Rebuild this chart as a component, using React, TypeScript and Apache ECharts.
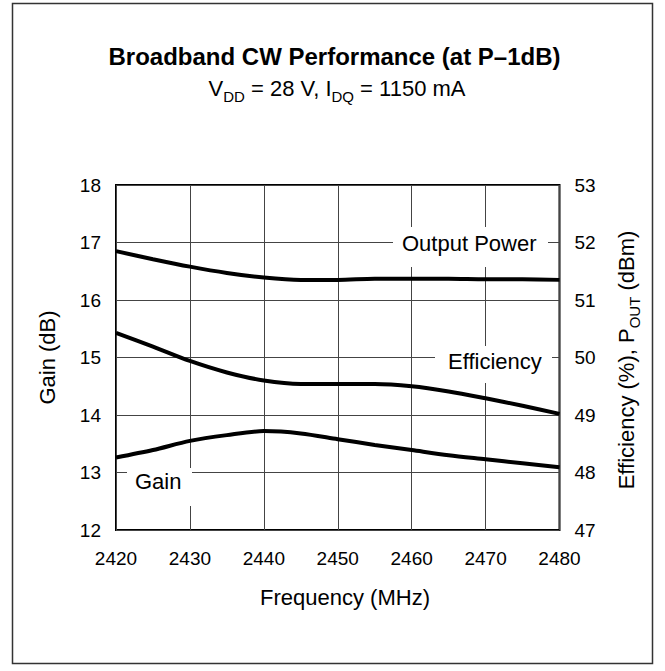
import React, { useEffect, useRef } from "react";
import * as echarts from "echarts";

const frequency = [2420, 2425, 2430, 2435, 2440, 2445, 2450, 2455, 2460, 2465, 2470, 2475, 2480];
const gain = [13.26, 13.39, 13.55, 13.65, 13.72, 13.68, 13.58, 13.48, 13.39, 13.3, 13.23, 13.16, 13.09];
const efficiency = [50.43, 50.19, 49.94, 49.74, 49.6, 49.54, 49.54, 49.54, 49.5, 49.41, 49.29, 49.16, 49.02];
const outputPower = [51.85, 51.71, 51.58, 51.47, 51.39, 51.35, 51.35, 51.37, 51.37, 51.37, 51.36, 51.36, 51.35];

const freqRange = [2420, 2480];
const gainRange = [12, 18];
const rightRange = [47, 53];

const FONT = "'Liberation Sans', Arial, Helvetica, sans-serif";

export default function App() {
  const ref = useRef<HTMLDivElement>(null);
  useEffect(() => {
    if (!ref.current) return;
    const chart = echarts.init(ref.current, null, { renderer: "svg" });
    const pair = (vals: number[]) => frequency.map((f, i) => [f, vals[i]]);
    const lineStyle = { color: "#000", width: 4 };
    const subRich = {
      sub: { fontSize: 15, fontFamily: FONT, color: "#000", lineHeight: 15, padding: [17, 0, 0, 0] },
    };
    chart.setOption({
      animation: false,
      backgroundColor: "#fff",
      grid: {
        left: 116,
        right: 105.5,
        top: 185,
        bottom: 141,
        show: true,
        borderColor: "#000",
        borderWidth: 2,
        backgroundColor: "transparent",
      },
      xAxis: {
        type: "value",
        min: freqRange[0],
        max: freqRange[1],
        interval: 10,
        axisLine: { show: false },
        axisTick: { show: false },
        axisLabel: {
          color: "#000",
          fontSize: 19,
          fontFamily: FONT,
          margin: 19,
          formatter: (v: number) => String(v),
        },
        splitLine: { show: true, lineStyle: { color: "#444", width: 1 } },
      },
      yAxis: [
        {
          type: "value",
          min: gainRange[0],
          max: gainRange[1],
          interval: 1,
          axisLine: { show: false },
          axisTick: { show: false },
          axisLabel: { color: "#000", fontSize: 19, fontFamily: FONT, margin: 15 },
          splitLine: { show: true, lineStyle: { color: "#444", width: 1 } },
        },
        {
          type: "value",
          position: "right",
          min: rightRange[0],
          max: rightRange[1],
          interval: 1,
          axisLine: { show: false },
          axisTick: { show: false },
          axisLabel: { color: "#000", fontSize: 19, fontFamily: FONT, margin: 15 },
          splitLine: { show: false },
        },
      ],
      series: [
        { name: "Gain", type: "line", yAxisIndex: 0, data: pair(gain), showSymbol: false, smooth: 0.3, lineStyle, z: 3 },
        { name: "Efficiency", type: "line", yAxisIndex: 1, data: pair(efficiency), showSymbol: false, smooth: 0.3, lineStyle, z: 3 },
        { name: "Output Power", type: "line", yAxisIndex: 1, data: pair(outputPower), showSymbol: false, smooth: 0.3, lineStyle, z: 3 },
      ],
      graphic: [
        {
          type: "rect",
          z: -10,
          silent: true,
          shape: { x: 12.5, y: 3.5, width: 640, height: 660 },
          style: { fill: "none", stroke: "#333", lineWidth: 1.5 },
        },
        {
          type: "text",
          z: 10,
          x: 334.5,
          y: 56,
          style: {
            text: "Broadband CW Performance (at P\u20131dB)",
            fontSize: 24,
            fontWeight: "bold",
            fontFamily: FONT,
            fill: "#000",
            align: "center",
            verticalAlign: "middle",
          },
        },
        {
          type: "text",
          z: 10,
          x: 337,
          y: 88,
          style: {
            text: "V{sub|DD} = 28 V, I{sub|DQ} = 1150 mA",
            fontSize: 22,
            fontFamily: FONT,
            fill: "#000",
            lineHeight: 40,
            align: "center",
            verticalAlign: "middle",
            rich: subRich,
          },
        },
        {
          type: "text",
          z: 10,
          x: 47,
          y: 357.5,
          rotation: Math.PI / 2,
          style: {
            text: "Gain (dB)",
            fontSize: 22,
            fontFamily: FONT,
            fill: "#000",
            align: "center",
            verticalAlign: "middle",
          },
        },
        {
          type: "text",
          z: 10,
          x: 626,
          y: 360,
          rotation: Math.PI / 2,
          style: {
            text: "Efficiency (%), P{sub|OUT} (dBm)",
            fontSize: 22,
            fontFamily: FONT,
            fill: "#000",
            lineHeight: 40,
            align: "center",
            verticalAlign: "middle",
            rich: subRich,
          },
        },
        {
          type: "text",
          z: 10,
          x: 345,
          y: 597.5,
          style: {
            text: "Frequency (MHz)",
            fontSize: 22,
            fontFamily: FONT,
            fill: "#000",
            align: "center",
            verticalAlign: "middle",
          },
        },
        { type: "rect", z: 1, silent: true, shape: { x: 393, y: 227, width: 155, height: 40 }, style: { fill: "#fff" } },
        {
          type: "text",
          z: 5,
          x: 402,
          y: 243,
          style: { text: "Output Power", fontSize: 22, fontFamily: FONT, fill: "#000", align: "left", verticalAlign: "middle" },
        },
        { type: "rect", z: 1, silent: true, shape: { x: 435, y: 346, width: 117, height: 37 }, style: { fill: "#fff" } },
        {
          type: "text",
          z: 5,
          x: 448,
          y: 361,
          style: { text: "Efficiency", fontSize: 22, fontFamily: FONT, fill: "#000", align: "left", verticalAlign: "middle" },
        },
        { type: "rect", z: 1, silent: true, shape: { x: 127, y: 468, width: 65, height: 38 }, style: { fill: "#fff" } },
        {
          type: "text",
          z: 5,
          x: 135,
          y: 481.5,
          style: { text: "Gain", fontSize: 22, fontFamily: FONT, fill: "#000", align: "left", verticalAlign: "middle" },
        },
      ],
    });
    return () => chart.dispose();
  }, []);
  return (
    <div
      ref={ref}
      style={{ position: "absolute", left: 0, top: 0, width: 665, height: 671, background: "#fff" }}
    />
  );
}
